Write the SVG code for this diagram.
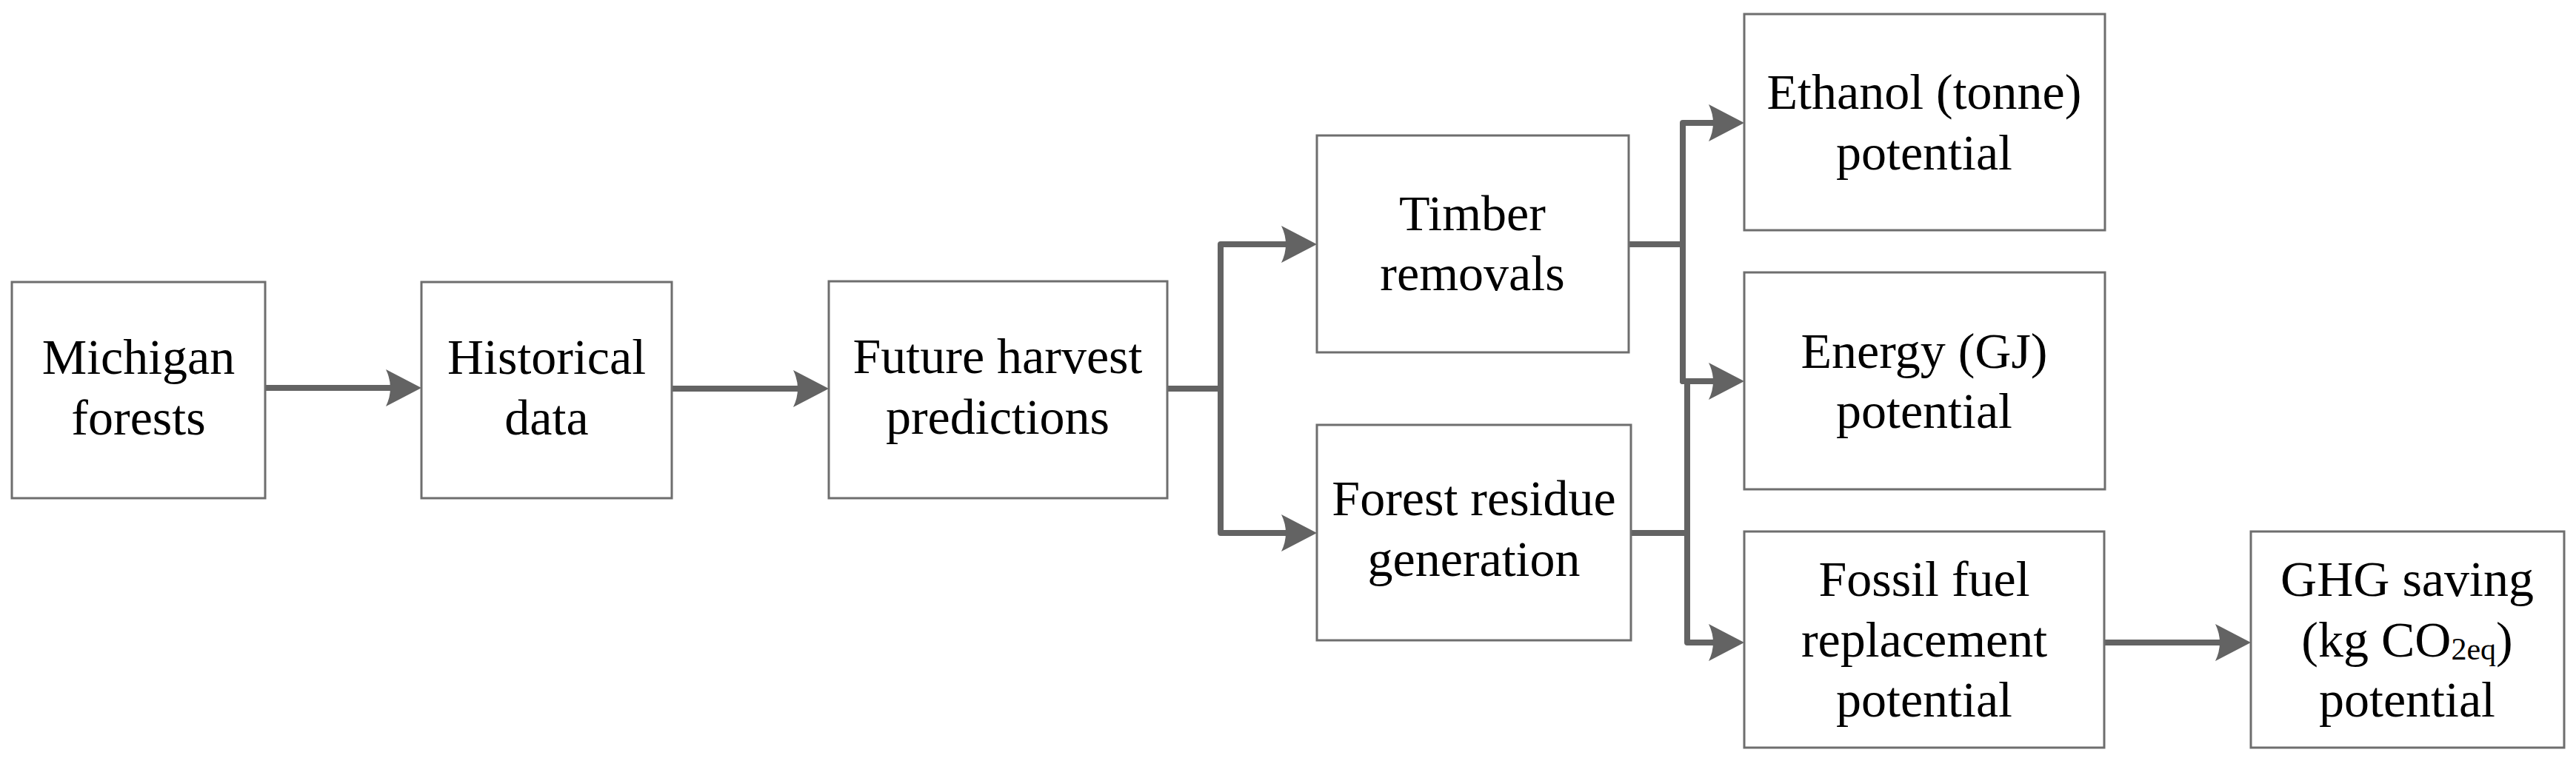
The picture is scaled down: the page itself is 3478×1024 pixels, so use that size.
<svg xmlns="http://www.w3.org/2000/svg" width="3478" height="1024" viewBox="0 0 3478 1024">
<style>
.box{fill:#fff;stroke:#6e6e6e;stroke-width:3}
.t{font-family:"Liberation Serif","Times New Roman",serif;font-size:68px;fill:#000;text-anchor:middle}
.c{fill:none;stroke:#636363;stroke-width:8;stroke-linecap:round;stroke-linejoin:round}
</style>
<defs>
<marker id="ah" viewBox="-50 -26 52 52" refX="-36" refY="0" markerWidth="52" markerHeight="52" markerUnits="userSpaceOnUse" orient="auto">
<path d="M0,0 L-48,-25 Q-36,0 -48,25 Z" fill="#636363"/>
</marker>
</defs>
<rect width="3478" height="1024" fill="#fff"/>
<g id="connectors">
<path class="c" d="M358,524 H533" marker-end="url(#ah)"/>
<path class="c" d="M907,525 H1083" marker-end="url(#ah)"/>
<path class="c" d="M1576,525 H1648"/>
<path class="c" d="M1648,525 V330 H1742" marker-end="url(#ah)"/>
<path class="c" d="M1648,525 V720 H1742" marker-end="url(#ah)"/>
<path class="c" d="M2199,330 H2272"/>
<path class="c" d="M2272,515 V166 H2319" marker-end="url(#ah)"/>
<path class="c" d="M2272,515 H2319" marker-end="url(#ah)"/>
<path class="c" d="M2202,720 H2278"/>
<path class="c" d="M2278,515 V868 H2319" marker-end="url(#ah)"/>
<path class="c" d="M2841,868 H3003" marker-end="url(#ah)"/>
</g>
<g id="michigan">
<rect class="box" x="16" y="381" width="342" height="292"/>
<text class="t" x="187" y="505">Michigan</text>
<text class="t" x="187" y="587">forests</text>
</g>
<g id="historical">
<rect class="box" x="569" y="381" width="338" height="292"/>
<text class="t" x="738" y="505">Historical</text>
<text class="t" x="738" y="587">data</text>
</g>
<g id="future">
<rect class="box" x="1119" y="380" width="457" height="293"/>
<text class="t" x="1347" y="504">Future harvest</text>
<text class="t" x="1347" y="586">predictions</text>
</g>
<g id="timber">
<rect class="box" x="1778" y="183" width="421" height="293"/>
<text class="t" x="1988" y="311">Timber</text>
<text class="t" x="1988" y="392">removals</text>
</g>
<g id="residue">
<rect class="box" x="1778" y="574" width="424" height="291"/>
<text class="t" x="1990" y="696">Forest residue</text>
<text class="t" x="1990" y="778">generation</text>
</g>
<g id="ethanol">
<rect class="box" x="2355" y="19" width="487" height="292"/>
<text class="t" x="2598" y="147">Ethanol (tonne)</text>
<text class="t" x="2598" y="229">potential</text>
</g>
<g id="energy">
<rect class="box" x="2355" y="368" width="487" height="293"/>
<text class="t" x="2598" y="497">Energy (GJ)</text>
<text class="t" x="2598" y="578">potential</text>
</g>
<g id="fossil">
<rect class="box" x="2355" y="718" width="486" height="292"/>
<text class="t" x="2598" y="805">Fossil fuel</text>
<text class="t" x="2598" y="887">replacement</text>
<text class="t" x="2598" y="968">potential</text>
</g>
<g id="ghg">
<rect class="box" x="3039" y="718" width="423" height="292"/>
<text class="t" x="3250" y="805">GHG saving</text>
<text class="t" x="3250" y="887">(kg CO<tspan font-size="42" dy="4">2eq</tspan><tspan dy="-4">)</tspan></text>
<text class="t" x="3250" y="968">potential</text>
</g>
</svg>
